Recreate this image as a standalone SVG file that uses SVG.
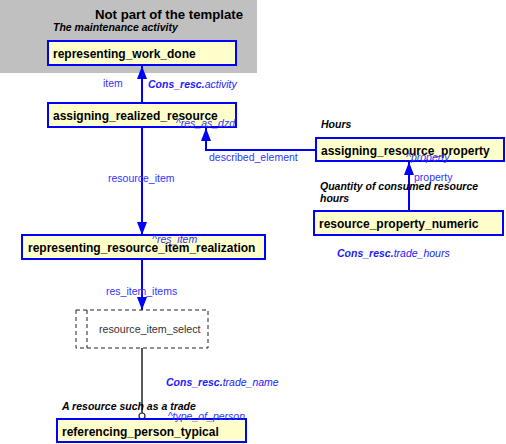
<svg xmlns="http://www.w3.org/2000/svg" width="506" height="444" viewBox="0 0 506 444">
<style>
.box{fill:#FFFFCC;stroke:#0000FF;stroke-width:2}
.bt{font-family:"Liberation Sans",Arial,sans-serif;font-weight:bold;font-size:12px;fill:#000}
.lbl{font-family:"Liberation Sans",Arial,sans-serif;font-size:10.5px;fill:#3333FF}
.role{font-family:"Liberation Sans",Arial,sans-serif;font-size:10.5px;font-style:italic;fill:#3333FF}
.cons{font-family:"Liberation Sans",Arial,sans-serif;font-size:10.5px;font-style:italic;fill:#1a1aFF}
.note{font-family:"Liberation Sans",Arial,sans-serif;font-size:10.5px;font-style:italic;font-weight:bold;fill:#000}
.con{stroke:#0000FF;stroke-width:2;fill:none}
</style>
<rect x="0" y="0" width="257" height="73" fill="#C0C0C0"/>
<text x="243" y="19" text-anchor="end" font-family="Liberation Sans,Arial,sans-serif" font-weight="bold" font-size="13.2px" fill="#000">Not part of the template</text>
<text x="53" y="31" class="note">The maintenance activity</text>

<g id="connectors">
<line x1="142" y1="103" x2="142" y2="66" class="con"/>
<path d="M137,79 L147,79 L142,66 Z" fill="#0000FF"/>
<polyline points="316,150 206,150 206,128" class="con"/>
<path d="M201,141 L211,141 L206,128 Z" fill="#0000FF"/>
<line x1="409" y1="211" x2="409" y2="162" class="con"/>
<path d="M404,175 L414,175 L409,162 Z" fill="#0000FF"/>
<line x1="142" y1="127" x2="142" y2="235" class="con"/>
<path d="M137,222 L147,222 L142,235 Z" fill="#0000FF"/>
<line x1="142" y1="259" x2="142" y2="310" class="con"/>
<path d="M137,297 L147,297 L142,310 Z" fill="#0000FF"/>
<line x1="142" y1="348" x2="142" y2="413" stroke="#222" stroke-width="1.5"/>
<circle cx="142" cy="416" r="3" fill="#fff" stroke="#222" stroke-width="1.2"/>
<text x="103" y="87" class="lbl">item</text>
<text x="148" y="88" class="cons"><tspan font-weight="bold">Cons_resc.</tspan>activity</text>
<text x="209" y="161" class="lbl">described_element</text>
<text x="414" y="181" class="lbl">property</text>
<text x="108" y="182" class="lbl">resource_item</text>
<text x="106" y="295" class="lbl">res_item_items</text>
<text x="337" y="257" class="cons"><tspan font-weight="bold">Cons_resc.</tspan>trade_hours</text>
<text x="166" y="386" class="cons"><tspan font-weight="bold">Cons_resc.</tspan>trade_name</text>
</g>

<g id="representing_work_done">
<rect x="48" y="41" width="188" height="24" class="box"/>
<text x="53" y="57.5" class="bt">representing_work_done</text>
</g>

<g id="assigning_realized_resource">
<rect x="48" y="103" width="188" height="24" class="box"/>
<text x="53" y="119.5" class="bt">assigning_realized_resource</text>
<text x="235" y="127" text-anchor="end" class="role">^res_as_dzd</text>
</g>

<g id="assigning_resource_property">
<text x="321" y="128" class="note">Hours</text>
<rect x="316" y="138" width="188" height="23" class="box"/>
<text x="321" y="154.5" class="bt">assigning_resource_property</text>
<text x="406" y="161" class="role">^property</text>
</g>

<g id="resource_property_numeric">
<text x="320" y="190" class="note">Quantity of consumed resource</text>
<text x="320" y="202" class="note">hours</text>
<rect x="314" y="211" width="189" height="24" class="box"/>
<text x="319" y="227.5" class="bt">resource_property_numeric</text>
</g>

<g id="representing_resource_item_realization">
<rect x="22" y="235" width="243" height="24" class="box"/>
<text x="28" y="251.5" class="bt">representing_resource_item_realization</text>
<text x="152" y="243" class="role">^res_item</text>
</g>

<g id="resource_item_select">
<rect x="76" y="310" width="132" height="38" fill="#fff" stroke="#222" stroke-width="1" stroke-dasharray="4,3"/>
<line x1="87" y1="310" x2="87" y2="348" stroke="#222" stroke-width="1" stroke-dasharray="4,3"/>
<text x="99" y="333" font-family="Liberation Sans,Arial,sans-serif" font-size="10.7px" fill="#333">resource_item_select</text>
</g>

<g id="referencing_person_typical">
<text x="62" y="410" class="note">A resource such as a trade</text>
<rect x="57" y="419" width="189" height="23" class="box"/>
<text x="62" y="435.5" class="bt">referencing_person_typical</text>
<text x="245" y="420" text-anchor="end" class="role">^type_of_person</text>
</g>
</svg>
